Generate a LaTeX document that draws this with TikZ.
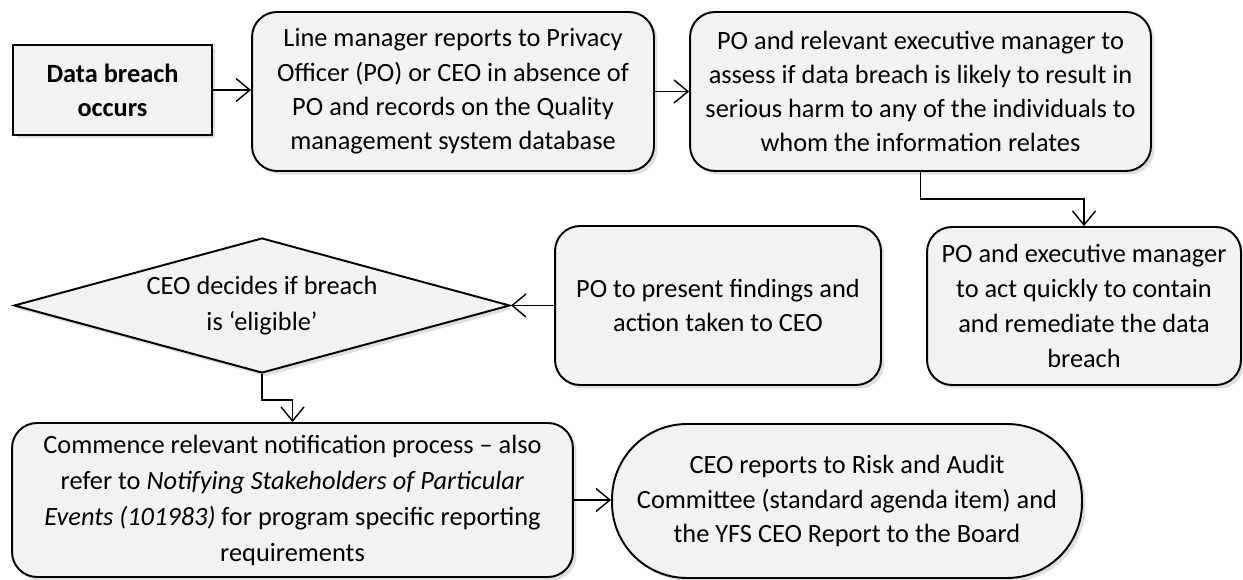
\documentclass[tikz,border=0pt]{standalone}
\usepackage{fontspec}
\setmainfont{Carlito}
\usetikzlibrary{shapes.geometric,arrows.meta,shadows}
\definecolor{boxfill}{HTML}{F2F2F2}
\begin{document}
\begin{tikzpicture}[x=0.02cm, y=-0.02cm,
    box/.style={draw, line width=1.1pt, fill=boxfill, align=center, inner sep=0pt,
        font=\fontsize{15}{19.5}\selectfont,
        drop shadow={opacity=0.25, shadow xshift=0.07cm, shadow yshift=-0.07cm}},
    roundbox/.style={box, rounded corners=0.5cm},
    flow/.style={-{Straight Barb[length=0.28cm, width=0.46cm]}, line width=0.8pt}]
    \useasboundingbox (0,0) rectangle (1243,580);

    \node[box, minimum width=3.98cm, minimum height=1.8cm, font=\fontsize{15}{19.5}\selectfont\bfseries] at (112.5, 90)  (occurs)  {Data breach\\occurs};
    \node[roundbox, minimum width=8.04cm, minimum height=3.18cm] at (453, 91.5)  (report)  {Line manager reports to Privacy\\Officer (PO) or CEO in absence of\\PO and records on the Quality\\management system database};
    \node[roundbox, minimum width=9.22cm, minimum height=3.18cm] at (920.5, 91.5)  (assess)  {PO and relevant executive manager to\\assess if data breach is likely to result in\\serious harm to any of the individuals to\\whom the information relates};
    \node[roundbox, minimum width=6.28cm, minimum height=3.16cm, font=\fontsize{15}{20}\selectfont] at (1084, 306)  (contain)  {PO and executive manager\\to act quickly to contain\\and remediate the data\\breach};
    \node[roundbox, minimum width=6.52cm, minimum height=3.18cm] at (718, 305.5)  (present)  {PO to present findings and\\action taken to CEO};
    \node[box, diamond, aspect=3.7, minimum width=9.92cm, minimum height=2.7cm, font=\fontsize{15}{20.5}\selectfont] at (262, 305.5)  (decide)  {CEO decides if breach\\is ‘eligible’};
    \node[roundbox, minimum width=11.22cm, minimum height=3.08cm, font=\fontsize{15}{20.5}\selectfont] at (292.5, 500)  (notify)  {Commence relevant notification process – also\\refer to \textit{Notifying Stakeholders of Particular}\\\textit{Events (101983)} for program specific reporting\\requirements};
    \node[box, rounded corners=1.5cm, minimum width=9.4cm, minimum height=3.08cm] at (847, 501)  (board)  {CEO reports to Risk and Audit\\Committee (standard agenda item) and\\the YFS CEO Report to the Board};

    \draw[flow]  (occurs.east) -- (occurs.east -| report.west);
    \draw[flow]  (report.east) -- (report.east -| assess.west);
    \draw[flow]  (assess.south) -- ++(0, 27) -| (contain.north);
    \draw[flow]  (present.west) -- (decide.east);
    \draw[flow]  (decide.south) -- ++(0, 26) -| (notify.north);
    \draw[flow]  (notify.east) -- (notify.east -| board.west);
\end{tikzpicture}
\end{document}
